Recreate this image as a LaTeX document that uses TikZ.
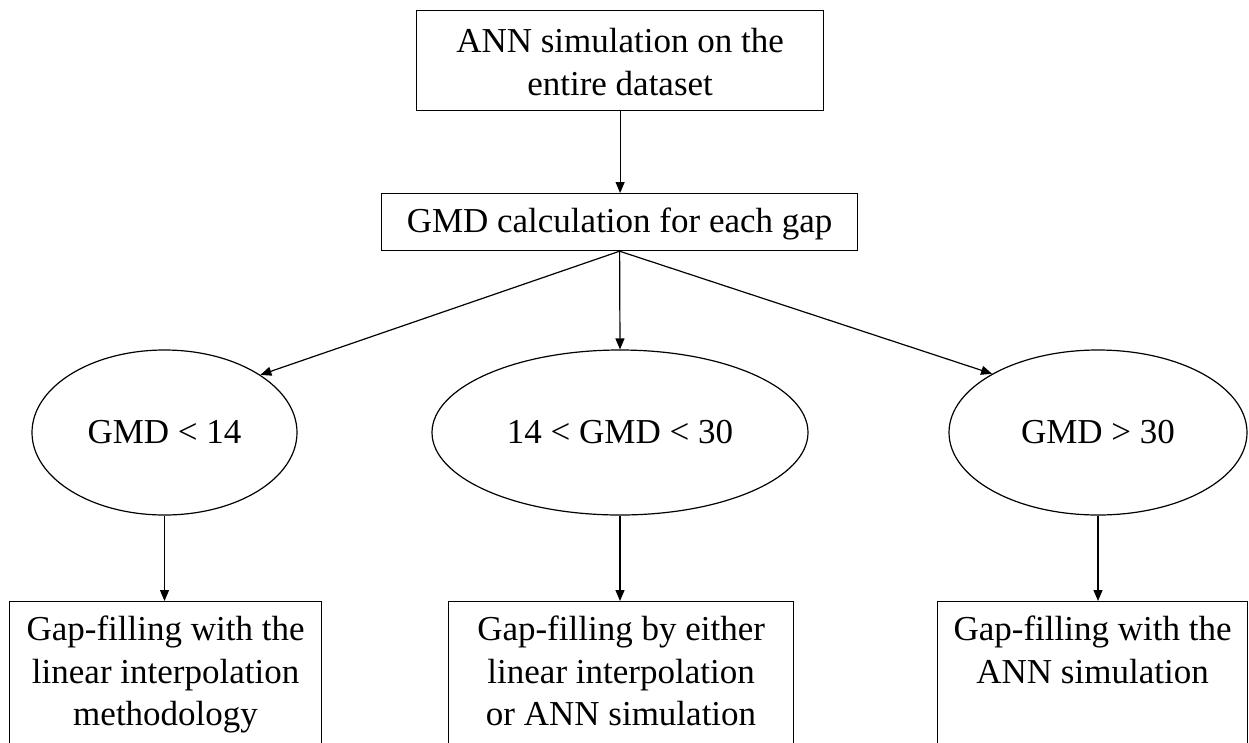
\documentclass[tikz,border=0pt]{standalone}
\usepackage{fontspec}
\setmainfont{Liberation Serif}
\usetikzlibrary{shapes.geometric,arrows.meta}
\newcommand\boxlines[4]{\parbox[c][#2][t]{#1}{\centering\rule{0pt}{#3}#4\par}}
\begin{document}
\begin{tikzpicture}[x=1pt,y=-1pt,
  every node/.style={font=\fontsize{35}{42.5}\selectfont},
  flowbox/.style={draw, line width=1.2pt, inner sep=0pt, anchor=north west},
  oval/.style={draw, ellipse, line width=1.2pt, inner sep=0pt, minimum height=165pt},
  arr/.style={line width=1.2pt, -{Triangle[length=11pt,width=9pt]}}]
\useasboundingbox (0,0) rectangle (1249,742);
\clip (0,0) rectangle (1249,742);
\node[flowbox] (top) at (416,10) {\boxlines{407pt}{100pt}{42pt}{ANN simulation on the\\entire dataset}};
\node[flowbox] (gmd) at (381,193) {\boxlines{476pt}{57pt}{39pt}{GMD calculation for each gap}};
\node[oval, minimum width=265pt] (e1) at (164.5,432.5) {GMD < 14};
\node[oval, minimum width=376pt] (e2) at (620,432.5) {14 < GMD < 30};
\node[oval, minimum width=298pt] (e3) at (1098,432.5) {GMD > 30};
\node[flowbox] (b1) at (9,601) {\boxlines{312pt}{200pt}{39pt}{Gap-filling with the\\linear interpolation\\methodology}};
\node[flowbox] (b2) at (448,601) {\boxlines{345pt}{200pt}{39pt}{Gap-filling by either\\linear interpolation\\or ANN simulation}};
\node[flowbox] (b3) at (937,601) {\boxlines{310pt}{200pt}{39pt}{Gap-filling with the\\ANN simulation}};
\draw[arr] (top.south) -- (top.south |- gmd.north);
\draw[arr] (gmd.south) -- (e1.31.7);
\draw[arr] (gmd.south) -- (e2.north);
\draw[arr] (gmd.south) -- (e3.151.3);
\draw[arr] (e1.south) -- (e1.south |- b1.north);
\draw[arr] (e2.south) -- (e2.south |- b2.north);
\draw[arr] (e3.south) -- (e3.south |- b3.north);
\end{tikzpicture}
\end{document}
